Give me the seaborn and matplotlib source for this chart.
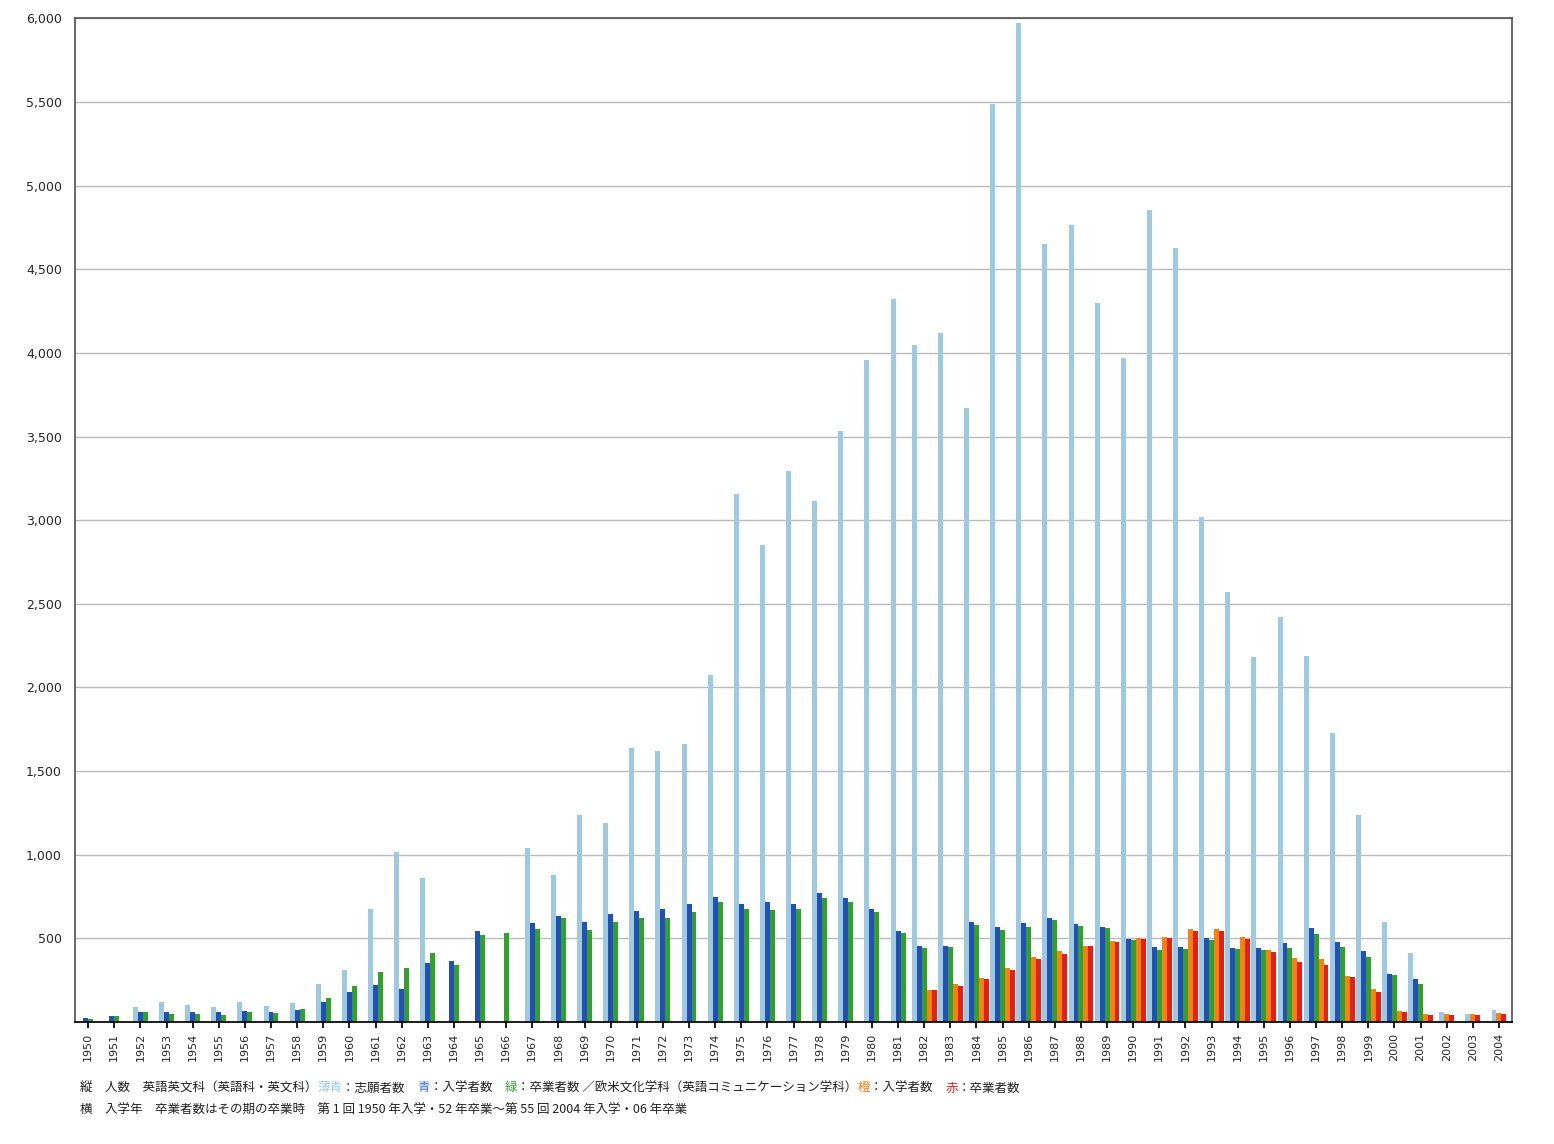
import numpy as np
import matplotlib
matplotlib.use("Agg")
import matplotlib.pyplot as plt
import seaborn as sns
from matplotlib.ticker import FuncFormatter

years = list(range(1950, 2005))
N = np.nan
applicants = [N, N, 90, 120, 100, 92, 120, 96, 114, 228, 312, 676, 1015, 862, N, N, N, 1040,
              880, 1240, 1190, 1640, 1620, 1660, 2075, 3155, 2850, 3295, 3115, 3535, 3960, 4325,
              4050, 4120, 3670, 5485, 5970, 4650, 4765, 4300, 3970, 4855, 4625, 3020, 2570, 2185,
              2420, 2190, 1725, 1240, 596, 412, 58, 50, 74]
entrants = [22, 36, 58, 58, 60, 60, 64, 60, 70, 120, 178, 220, 200, 350, 366, 542, N, 592,
            636, 600, 648, 664, 674, 704, 748, 706, 716, 708, 774, 740, 674, 546,
            454, 456, 596, 568, 590, 624, 588, 570, 498, 446, 450, 504, 442, 440,
            470, 564, 480, 422, 290, 256, N, N, N]
graduates = [18, 34, 58, 48, 48, 44, 58, 54, 78, 146, 216, 298, 324, 412, 342, 518, 532, 558,
             622, 552, 598, 622, 624, 660, 716, 678, 668, 674, 740, 720, 656, 532,
             444, 448, 582, 552, 566, 612, 576, 562, 488, 432, 438, 490, 436, 430,
             442, 526, 448, 390, 280, 228, N, N, N]
new_entrants = [N] * 32 + [194, 226, 264, 324, 386, 422, 456, 486, 500, 510, 556, 556, 510, 430,
                           382, 374, 276, 196, 68, 48, 48, 50, 54]
new_graduates = [N] * 32 + [190, 216, 258, 314, 378, 406, 454, 480, 496, 504, 542, 546, 496, 420,
                            360, 342, 268, 178, 60, 44, 42, 44, 48]

series = [applicants, entrants, graduates, new_entrants, new_graduates]
colors = ["#9ecae1", "#2050b8", "#33a02c", "#ff7f0e", "#e0201c"]

sns.set_theme(style="white")
plt.rcParams['font.family'] = ['Noto Sans CJK JP', 'DejaVu Sans']

fig = plt.figure(figsize=(15.54, 11.44), dpi=100)
ax = fig.add_axes([0.0483, 0.1066, 0.9247, 0.8774])

w = 0.19
for i, y in enumerate(years):
    present = [k for k in range(5) if not np.isnan(series[k][i])]
    n = len(present)
    for j, k in enumerate(present):
        off = (j - (n - 1) / 2) * w
        ax.bar(i + off, series[k][i], width=w, color=colors[k], linewidth=0)

ax.set_xlim(-0.5, len(years) - 0.5)
ax.set_ylim(0, 6000)
ax.set_xticks(range(len(years)))
ax.set_xticklabels([str(y) for y in years], rotation=90, fontsize=8, family='DejaVu Sans')
ax.set_yticks(range(500, 6001, 500))
ax.yaxis.set_major_formatter(FuncFormatter(lambda v, p: f"{int(v):,}"))
ax.tick_params(axis='y', labelsize=9)
for lab in ax.get_yticklabels():
    lab.set_family('DejaVu Sans')
ax.tick_params(axis='x', length=4, color='black', bottom=True)
ax.yaxis.grid(True, color='#bbbbbb', linewidth=1)
ax.set_axisbelow(True)
for s in ['top', 'right', 'left']:
    ax.spines[s].set_color('#555555')
ax.spines['bottom'].set_color('black')

# caption with colored words
def colored_line(parts, x, y):
    renderer = fig.canvas.get_renderer()
    cur = x
    for txt, col in parts:
        t = fig.text(cur, y, txt, color=col, fontsize=9, ha='left', va='center',
                     family=['Noto Sans CJK JP', 'DejaVu Sans'])
        bb = t.get_window_extent(renderer=renderer)
        cur += bb.width / fig.bbox.width

line1 = [("縦　人数　英語英文科（英語科・英文科）", "#222222"), ("薄青", colors[0]),
         ("：志願者数　", "#222222"), ("青", "#3a70d0"), ("：入学者数　", "#222222"),
         ("緑", colors[2]), ("：卒業者数 ／欧米文化学科（英語コミュニケーション学科）", "#222222"),
         ("橙", colors[3]), ("：入学者数　", "#222222"), ("赤", colors[4]), ("：卒業者数", "#222222")]
colored_line(line1, 80 / 1554, 1 - 1088 / 1144)
colored_line([("横　入学年　卒業者数はその期の卒業時　第 1 回 1950 年入学・52 年卒業～第 55 回 2004 年入学・06 年卒業", "#222222")],
             80 / 1554, 1 - 1110 / 1144)

fig.savefig("out.png", dpi=100)
